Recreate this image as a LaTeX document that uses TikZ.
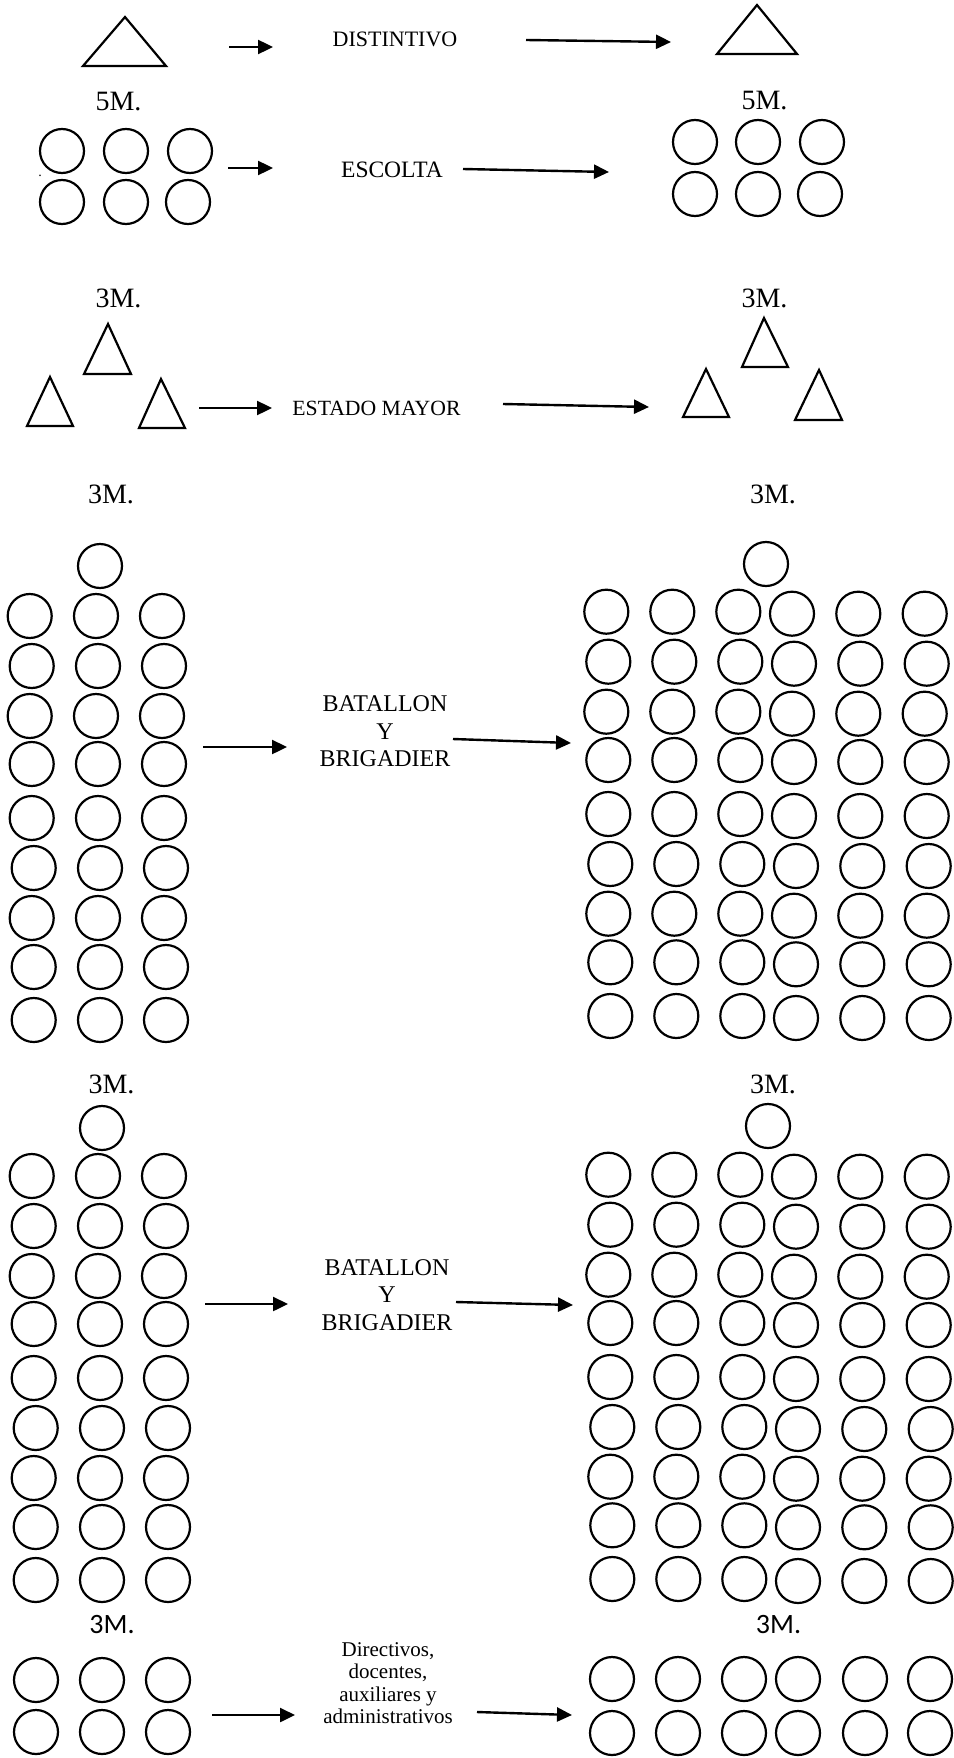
\documentclass[tikz,border=0pt]{standalone}
\usepackage{fontspec}
\setmainfont{Liberation Serif}
\newfontfamily\calibfont{Carlito}
\usetikzlibrary{arrows.meta}
\begin{document}
\begin{tikzpicture}[x=1pt,y=-1pt,
  pers/.style={circle,draw,line width=2.2pt,minimum size=44pt,inner sep=0pt},
  cone/.style={draw,line width=2.2pt,line join=miter},
  flecha/.style={line width=2.4pt,-{Triangle[length=15pt,width=14pt]}},
  mlbl/.style={anchor=base,inner sep=0pt,font=\fontsize{28}{30}\selectfont},
  slbl/.style={anchor=base,inner sep=0pt,font=\calibfont\fontsize{28}{30}\selectfont},
  txt/.style={inner sep=0pt,align=center}]
\useasboundingbox (0,0) rectangle (953,1758);

% ---------- DISTINTIVO ----------
\draw[cone] (83,66) -- (125,17) -- (166,66) -- cycle;
\node[txt,anchor=base,font=\fontsize{22}{24}\selectfont] (dist) at (395,47) {DISTINTIVO};
\coordinate (a1s) at (229,47); \coordinate (a1e) at (273,47);
\coordinate (a2s) at (526,40); \coordinate (a2e) at (671,42);
\draw[flecha] (a1s) -- (a1e);
\draw[flecha] (a2s) -- (a2e);
\draw[cone] (717,54) -- (757,5) -- (797,54) -- cycle;

% ---------- ESCOLTA ----------
\node[mlbl] (m5l) at (118.5,111) {5M.};
\node[mlbl] (m5r) at (764.5,110) {5M.};
\foreach \x/\y [count=\i] in {62/151,126/151,190/151,62/202,126/202,188/202}
  \node[pers] (escL\i) at (\x,\y) {};
\foreach \x/\y [count=\i] in {695/142,758/142,822/142,695/194,758/194,820/194}
  \node[pers] (escR\i) at (\x,\y) {};
\node[anchor=base,inner sep=0pt,font=\fontsize{14}{16}\selectfont] (punto) at (40,176) {.};
\node[txt,anchor=base,font=\fontsize{23.5}{25}\selectfont] (esc) at (392,177) {ESCOLTA};
\coordinate (a3s) at (228,168); \coordinate (a3e) at (273,168);
\coordinate (a4s) at (463,169); \coordinate (a4e) at (609,172);
\draw[flecha] (a3s) -- (a3e);
\draw[flecha] (a4s) -- (a4e);

% ---------- ESTADO MAYOR ----------
\node[mlbl] (m3a) at (118.5,307) {3M.};
\node[mlbl] (m3b) at (764.5,307) {3M.};
\draw[cone] (84,374) -- (108,324) -- (131,374) -- cycle;
\draw[cone] (27,426) -- (50,377) -- (73,426) -- cycle;
\draw[cone] (139,428) -- (161,379) -- (185,428) -- cycle;
\draw[cone] (742,367) -- (764,318) -- (788,367) -- cycle;
\draw[cone] (683,417) -- (706,369) -- (729,417) -- cycle;
\draw[cone] (795,420) -- (819,370) -- (842,420) -- cycle;
\node[txt,anchor=base,font=\fontsize{21.7}{24}\selectfont] (est) at (376.5,415) {ESTADO MAYOR};
\coordinate (a5s) at (199,408); \coordinate (a5e) at (272,408);
\coordinate (a6s) at (503,404); \coordinate (a6e) at (649,407);
\draw[flecha] (a5s) -- (a5e);
\draw[flecha] (a6s) -- (a6e);

% ---------- BATALLON Y BRIGADIER (two blocks) ----------
\foreach \b/\ly/\ry/\dx in {1/0/0/0, 2/560/563/2} {
  \foreach \y/\o [count=\r] in {616/0,666/2,716/0,764/2,818/2,868/4,918/2,967/4,1020/4} {
    \foreach \x [count=\c] in {29.7,96,162}
      \node[pers] (b\b L\r-\c) at (\x+\o+\dx,\y+\ly) {};
  }
  \foreach \y/\o [count=\r] in {611.7/0,661.7/2,711.7/0,760/2,814/2,864/4,913.7/2,962.3/4,1016/4} {
    \foreach \x/\d [count=\c] in {606.3/0,672.3/0,738.3/0,792/2,858.3/2,924.7/2}
      \node[pers] (b\b R\r-\c) at (\x+\o+\dx,\y+\d+\ry) {};
  }
}
\node[pers] (b1top L) at (100,566) {};
\node[pers] (b1top R) at (766,564) {};
\node[pers] (b2top L) at (102,1128) {};
\node[pers] (b2top R) at (768,1126) {};
\node[mlbl] (m3c) at (111,503) {3M.};
\node[mlbl] (m3d) at (773,503) {3M.};
\node[mlbl] (m3e) at (111.5,1093) {3M.};
\node[mlbl] (m3f) at (773,1093) {3M.};
\node[txt,font=\fontsize{24}{27.5}\selectfont] (bat1) at (385,731.5) {BATALLON\\Y\\BRIGADIER};
\node[txt,font=\fontsize{24}{27.5}\selectfont] (bat2) at (387,1295) {BATALLON\\Y\\BRIGADIER};
\coordinate (b1s) at (203,747); \coordinate (b1e) at (287,747);
\coordinate (b2s) at (453,739); \coordinate (b2e) at (571,743);
\coordinate (c1s) at (205,1304); \coordinate (c1e) at (288,1304);
\coordinate (c2s) at (456,1302); \coordinate (c2e) at (573,1305);
\draw[flecha] (b1s) -- (b1e);
\draw[flecha] (b2s) -- (b2e);
\draw[flecha] (c1s) -- (c1e);
\draw[flecha] (c2s) -- (c2e);

% ---------- DIRECTIVOS ----------
\node[slbl] (m3g) at (112,1633) {3M.};
\node[slbl] (m3h) at (778.5,1633) {3M.};
\foreach \y [count=\r] in {1680,1732}
  \foreach \x [count=\c] in {36,102,168}
    \node[pers] (dL\r-\c) at (\x,\y) {};
\foreach \y [count=\r] in {1679,1733}
  \foreach \x [count=\c] in {612,678,744,798,865,930}
    \node[pers] (dR\r-\c) at (\x,\y) {};
\node[txt,font=\fontsize{21}{22.3}\selectfont] (dir) at (388,1683) {Directivos,\\docentes,\\auxiliares y\\administrativos};
\coordinate (d1s) at (212,1715); \coordinate (d1e) at (295,1715);
\coordinate (d2s) at (477,1712); \coordinate (d2e) at (572,1715);
\draw[flecha] (d1s) -- (d1e);
\draw[flecha] (d2s) -- (d2e);
\end{tikzpicture}
\end{document}
